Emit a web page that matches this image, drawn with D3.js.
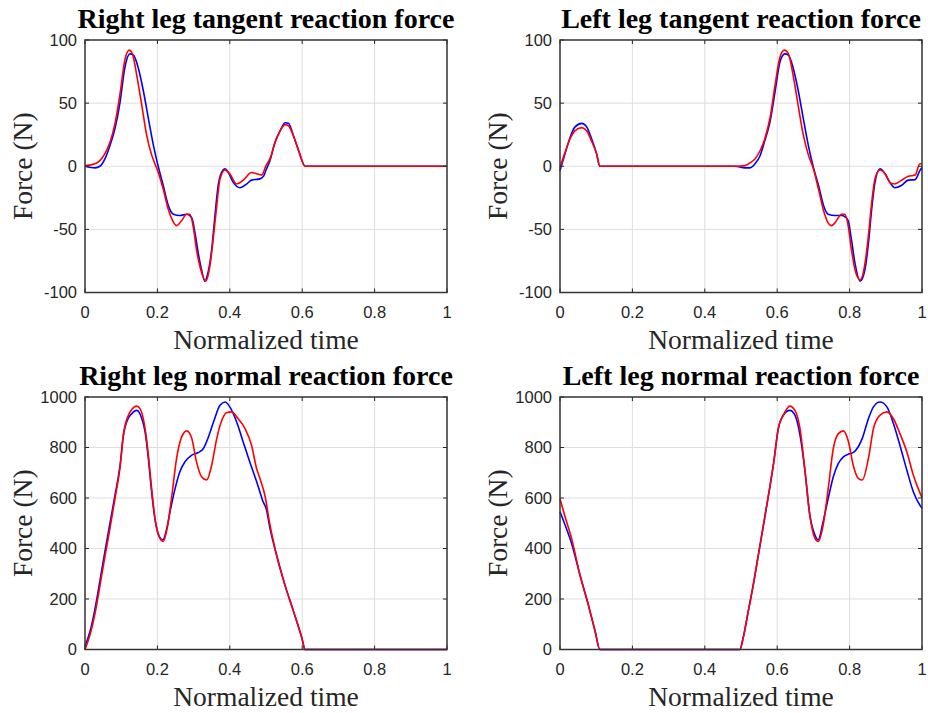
<!DOCTYPE html>
<html>
<head>
<meta charset="utf-8">
<script src="https://cdn.jsdelivr.net/npm/d3@7"></script>
<style>
  body { margin: 0; background: #fff; }
  text { fill: #262626; }
</style>
</head>
<body>
<script>
// tick values
var xTicks = [0, 0.2, 0.4, 0.6, 0.8, 1];
var tangentTicks = [-100, -50, 0, 50, 100];
var normalTicks = [0, 200, 400, 600, 800, 1000];

// series: [normalized time, force N]
var rightTanBlue = [[0,0],[0.028,-1.3],[0.041,0],[0.055,5.9],[0.069,16.5],[0.083,30],[0.097,51],[0.11,78],[0.124,89],[0.134,88],[0.147,78],[0.161,60],[0.175,38],[0.189,16.5],[0.203,-1],[0.216,-15],[0.23,-31],[0.244,-38],[0.262,-39],[0.281,-38],[0.295,-41],[0.304,-53],[0.313,-69],[0.322,-82],[0.331,-91],[0.34,-84],[0.35,-66],[0.359,-39],[0.368,-15],[0.377,-5],[0.387,-2],[0.396,-5],[0.41,-13],[0.428,-17],[0.447,-14],[0.46,-11],[0.483,-10],[0.493,-8],[0.5,-3],[0.511,4.5],[0.525,19],[0.539,28],[0.553,34.5],[0.562,34],[0.576,24],[0.59,12.5],[0.608,0],[1,0]];
var rightTanRed = [[0,0.5],[0.028,2],[0.041,4.5],[0.055,10],[0.069,19],[0.083,34],[0.097,58],[0.11,84],[0.122,92],[0.131,89],[0.143,72],[0.157,48],[0.17,25],[0.184,9],[0.2,-3],[0.216,-18],[0.23,-34],[0.242,-43],[0.253,-47],[0.267,-43],[0.281,-38],[0.29,-38],[0.299,-48],[0.308,-66],[0.318,-80],[0.334,-91],[0.345,-79],[0.354,-58],[0.364,-31],[0.373,-10],[0.387,-3],[0.4,-6],[0.419,-14],[0.437,-11],[0.46,-5],[0.474,-6],[0.488,-7],[0.5,0.5],[0.511,6],[0.525,19],[0.539,28],[0.553,33],[0.562,32],[0.576,24],[0.59,12.5],[0.608,0],[1,0]];
var leftTanBlue = [[0,-3.5],[0.014,10],[0.028,23],[0.041,31],[0.06,34],[0.074,31],[0.087,22],[0.101,10],[0.11,0],[0.483,0],[0.511,-1.3],[0.525,-1.3],[0.539,2],[0.553,8.5],[0.566,20.5],[0.58,35],[0.594,59],[0.608,83],[0.621,89],[0.631,88],[0.644,78],[0.658,60],[0.672,38],[0.686,16.5],[0.7,-1],[0.714,-15],[0.728,-31],[0.741,-38],[0.759,-39],[0.778,-39],[0.787,-40],[0.796,-43],[0.805,-58],[0.815,-77],[0.829,-91],[0.843,-81],[0.852,-61],[0.861,-34],[0.87,-13],[0.884,-2],[0.898,-6],[0.912,-13],[0.925,-17],[0.944,-15],[0.962,-11],[0.981,-10.6],[0.994,-3.5],[1,-1]];
var leftTanRed = [[0,-1],[0.014,11],[0.028,22],[0.041,28],[0.06,30.6],[0.074,28],[0.087,20],[0.101,10],[0.11,0],[0.483,0],[0.511,0.5],[0.525,2.7],[0.539,6],[0.553,12.5],[0.566,22],[0.58,38],[0.594,64],[0.608,87],[0.62,92],[0.631,89],[0.644,72],[0.658,48],[0.672,25],[0.686,9],[0.7,-2],[0.714,-18],[0.728,-35],[0.741,-45],[0.75,-47],[0.759,-45],[0.778,-38],[0.787,-38],[0.796,-47],[0.805,-66],[0.815,-82],[0.829,-90],[0.843,-76],[0.852,-55],[0.861,-29],[0.87,-10],[0.884,-3],[0.898,-6],[0.912,-13],[0.925,-14],[0.944,-11],[0.962,-8],[0.981,-7],[0.994,2],[1,2]];
var rightNormBlue = [[0,13],[0.014,72],[0.028,164],[0.041,270],[0.055,388],[0.069,500],[0.083,612],[0.097,730],[0.106,849],[0.115,901],[0.129,934],[0.143,947],[0.157,914],[0.166,862],[0.175,757],[0.184,625],[0.193,520],[0.203,454],[0.215,434],[0.226,480],[0.235,546],[0.249,638],[0.262,704],[0.276,743],[0.295,770],[0.313,780],[0.327,796],[0.341,842],[0.355,901],[0.373,967],[0.387,980],[0.4,961],[0.419,901],[0.437,822],[0.456,740],[0.474,665],[0.483,625],[0.492,585],[0.5,560],[0.511,480],[0.529,375],[0.552,257],[0.576,151],[0.599,46],[0.608,0],[1,0]];
var rightNormRed = [[0,0],[0.014,59],[0.028,145],[0.041,250],[0.055,368],[0.069,480],[0.083,599],[0.097,724],[0.106,849],[0.12,928],[0.143,964],[0.152,954],[0.166,875],[0.175,770],[0.184,638],[0.193,520],[0.207,441],[0.216,428],[0.227,480],[0.239,599],[0.253,757],[0.267,842],[0.281,866],[0.295,836],[0.308,743],[0.322,684],[0.336,671],[0.35,730],[0.364,836],[0.378,908],[0.391,938],[0.405,941],[0.423,914],[0.442,875],[0.46,809],[0.474,717],[0.483,678],[0.497,610],[0.511,493],[0.529,375],[0.552,257],[0.576,151],[0.599,46],[0.608,0],[1,0]];
var leftNormBlue = [[0,546],[0.014,493],[0.032,420],[0.055,296],[0.078,178],[0.097,72],[0.11,0],[0.497,0],[0.506,46],[0.52,151],[0.534,257],[0.548,375],[0.562,493],[0.576,612],[0.59,737],[0.603,875],[0.617,928],[0.635,947],[0.649,928],[0.663,849],[0.677,704],[0.69,533],[0.704,454],[0.713,434],[0.727,507],[0.741,599],[0.755,684],[0.769,737],[0.783,763],[0.797,774],[0.81,780],[0.824,803],[0.835,836],[0.852,914],[0.866,961],[0.884,980],[0.903,961],[0.921,895],[0.939,809],[0.958,711],[0.976,625],[0.987,590],[1,559]];
var leftNormRed = [[0,596],[0.014,526],[0.032,440],[0.055,296],[0.078,178],[0.097,72],[0.11,0],[0.497,0],[0.506,46],[0.52,151],[0.534,257],[0.548,375],[0.562,493],[0.576,612],[0.59,737],[0.603,875],[0.617,928],[0.635,964],[0.649,947],[0.663,875],[0.677,704],[0.69,533],[0.704,441],[0.713,428],[0.727,493],[0.741,638],[0.755,796],[0.769,855],[0.783,866],[0.797,822],[0.81,730],[0.824,678],[0.835,671],[0.852,757],[0.866,875],[0.884,928],[0.903,941],[0.921,914],[0.939,855],[0.958,783],[0.976,691],[1,601]];

var panels = [
  {title: 'Right leg tangent reaction force', left: 85, top: 40, yDomain: [-100, 100], yTicks: tangentTicks, blue: rightTanBlue, red: rightTanRed},
  {title: 'Left leg tangent reaction force', left: 560, top: 40, yDomain: [-100, 100], yTicks: tangentTicks, blue: leftTanBlue, red: leftTanRed},
  {title: 'Right leg normal reaction force', left: 85, top: 397, yDomain: [0, 1000], yTicks: normalTicks, blue: rightNormBlue, red: rightNormRed},
  {title: 'Left leg normal reaction force', left: 560, top: 397, yDomain: [0, 1000], yTicks: normalTicks, blue: leftNormBlue, red: leftNormRed}
];

var width = 928, height = 713;
var pw = 362, ph = 252.5, tickLen = 4;
var sans = '"Liberation Sans", Arial, sans-serif';
var serif = '"Liberation Serif", "Times New Roman", serif';

var svg = d3.select('body').append('svg')
  .attr('width', width)
  .attr('height', height);

panels.forEach(function(p) {
  var x = d3.scaleLinear().domain([0, 1]).range([0, pw]);
  var y = d3.scaleLinear().domain(p.yDomain).range([ph, 0]);
  var g = svg.append('g').attr('transform', 'translate(' + p.left + ',' + p.top + ')');

  // grid
  g.selectAll('.gx').data(xTicks.slice(1, -1)).join('line')
    .attr('x1', d => x(d)).attr('x2', d => x(d))
    .attr('y1', 0).attr('y2', ph)
    .attr('stroke', '#dedede').attr('stroke-width', 1);
  g.selectAll('.gy').data(p.yTicks.slice(1, -1)).join('line')
    .attr('y1', d => y(d)).attr('y2', d => y(d))
    .attr('x1', 0).attr('x2', pw)
    .attr('stroke', '#dedede').attr('stroke-width', 1);

  // curves
  var line = d3.line()
    .x(d => x(d[0]))
    .y(d => y(d[1]))
    .curve(d3.curveMonotoneX);
  g.append('path').datum(p.blue)
    .attr('d', line).attr('fill', 'none')
    .attr('stroke', '#0000ff').attr('stroke-width', 1.6);
  g.append('path').datum(p.red)
    .attr('d', line).attr('fill', 'none')
    .attr('stroke', '#ff0000').attr('stroke-width', 1.6);

  // inward ticks on all four sides (box on)
  var tickColor = '#262626';
  g.selectAll('.tb').data(xTicks).join('line')
    .attr('x1', d => x(d)).attr('x2', d => x(d))
    .attr('y1', ph).attr('y2', ph - tickLen).attr('stroke', tickColor);
  g.selectAll('.tt').data(xTicks).join('line')
    .attr('x1', d => x(d)).attr('x2', d => x(d))
    .attr('y1', 0).attr('y2', tickLen).attr('stroke', tickColor);
  g.selectAll('.tl').data(p.yTicks).join('line')
    .attr('y1', d => y(d)).attr('y2', d => y(d))
    .attr('x1', 0).attr('x2', tickLen).attr('stroke', tickColor);
  g.selectAll('.tr').data(p.yTicks).join('line')
    .attr('y1', d => y(d)).attr('y2', d => y(d))
    .attr('x1', pw).attr('x2', pw - tickLen).attr('stroke', tickColor);

  g.append('rect')
    .attr('width', pw).attr('height', ph)
    .attr('fill', 'none').attr('stroke', '#333').attr('stroke-width', 1.5);

  // tick labels
  g.selectAll('.xl').data(xTicks).join('text')
    .attr('x', d => x(d)).attr('y', ph + 25)
    .attr('text-anchor', 'middle')
    .style('font-family', sans).style('font-size', '16.5px')
    .text(d => d3.format('~g')(d));
  g.selectAll('.yl').data(p.yTicks).join('text')
    .attr('x', -8).attr('y', d => y(d)).attr('dy', '0.36em')
    .attr('text-anchor', 'end')
    .style('font-family', sans).style('font-size', '16.5px')
    .text(d => d);

  // titles and axis labels
  g.append('text')
    .attr('x', pw / 2).attr('y', -12)
    .attr('text-anchor', 'middle')
    .style('font-family', serif).style('font-size', '28px').style('font-weight', 'bold')
    .style('fill', '#000')
    .text(p.title);
  g.append('text')
    .attr('x', pw / 2).attr('y', ph + 56)
    .attr('text-anchor', 'middle')
    .style('font-family', serif).style('font-size', '27.5px')
    .text('Normalized time');
  g.append('text')
    .attr('transform', 'translate(-53,' + (ph / 2) + ') rotate(-90)')
    .attr('text-anchor', 'middle')
    .style('font-family', serif).style('font-size', '27.5px')
    .text('Force (N)');
});
</script>
</body>
</html>
